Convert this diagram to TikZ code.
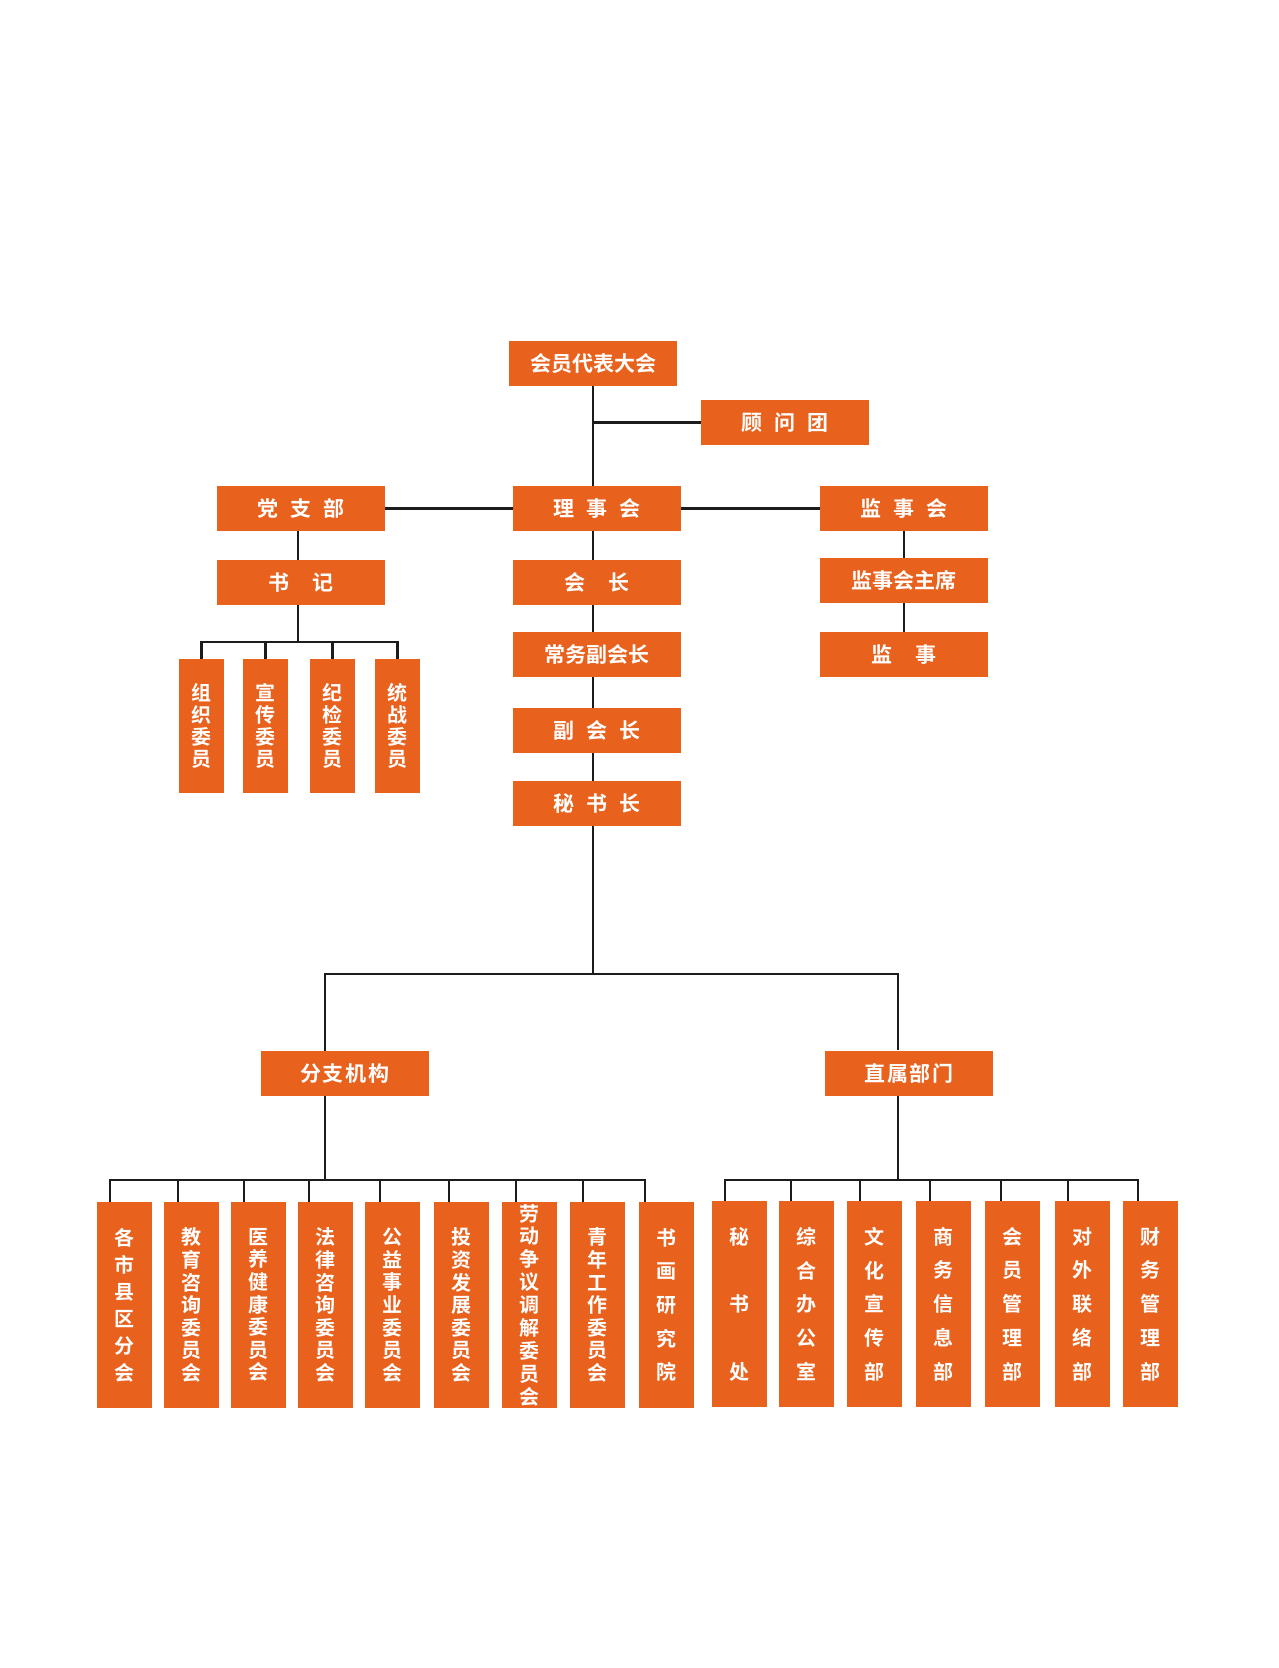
\documentclass[tikz,border=0pt]{standalone}
\usepackage{fontspec}
\setmainfont{Noto Sans CJK SC}[BoldFont={Noto Sans CJK SC Bold}]
\definecolor{boxor}{HTML}{E8621E}
\definecolor{linec}{HTML}{1C1C1C}
\begin{document}
\begin{tikzpicture}[x=1pt,y=-1pt,
  hbox/.style={fill=boxor,text=white,inner sep=0pt,minimum width=168pt,minimum height=45pt,font=\bfseries\fontsize{21pt}{25pt}\selectfont},
  vbox/.style={fill=boxor,text=white,inner sep=0pt,minimum width=55pt,minimum height=206pt,align=center,font=\bfseries\fontsize{20pt}{#1}\selectfont},
  pbox/.style={fill=boxor,text=white,inner sep=0pt,minimum width=45pt,minimum height=134pt,align=center,font=\bfseries\fontsize{20pt}{22pt}\selectfont},
  link/.style={draw=linec,line width=2.2pt}]
\fill[white] (0,0) rectangle (1279,1668);
\useasboundingbox (0,0) rectangle (1279,1668);

% top tier
\node[hbox] (hy) at (593,363.5) {会员代表大会};
\node[hbox] (gwt) at (785,422.5) {顾\hspace{12pt}问\hspace{12pt}团};
\node[hbox] (dzb) at (301,508.5) {党\hspace{12pt}支\hspace{12pt}部};
\node[hbox] (lsh) at (597,508.5) {理\hspace{12pt}事\hspace{12pt}会};
\node[hbox] (jsh) at (904,508) {监\hspace{12pt}事\hspace{12pt}会};
\node[hbox] (sj) at (301,582.5) {书\hspace{23pt}记};
\node[hbox] (hz) at (597,582.5) {会\hspace{23pt}长};
\node[hbox] (jszx) at (904,580.5) {监事会主席};
\node[hbox] (cw) at (597,654.5) {常务副会长};
\node[hbox] (js) at (904,654.5) {监\hspace{24pt}事};
\node[hbox] (fhz) at (597,730.5) {副\hspace{12pt}会\hspace{12pt}长};
\node[hbox] (msz) at (597,803.5) {秘\hspace{12pt}书\hspace{12pt}长};

% party committee members
\node[pbox] (p1) at (201.5,726) {组\\织\\委\\员};
\node[pbox] (p2) at (265.5,726) {宣\\传\\委\\员};
\node[pbox] (p3) at (332.5,726) {纪\\检\\委\\员};
\node[pbox] (p4) at (397.5,726) {统\\战\\委\\员};

% second tier
\node[hbox] (fz) at (345,1073.5) {分\hspace{2pt}支\hspace{2pt}机\hspace{2pt}构};
\node[hbox] (zs) at (909,1073) {直\hspace{2pt}属\hspace{2pt}部\hspace{2pt}门};

% branch organisations
\node[vbox=27pt] (b1) at (124.5,1305) {各\\市\\县\\区\\分\\会};
\node[vbox=22.6pt] (b2) at (191.5,1305) {教\\育\\咨\\询\\委\\员\\会};
\node[vbox=22.6pt] (b3) at (258.5,1305) {医\\养\\健\\康\\委\\员\\会};
\node[vbox=22.6pt] (b4) at (325.5,1305) {法\\律\\咨\\询\\委\\员\\会};
\node[vbox=22.6pt] (b5) at (392.5,1305) {公\\益\\事\\业\\委\\员\\会};
\node[vbox=22.6pt] (b6) at (461.5,1305) {投\\资\\发\\展\\委\\员\\会};
\node[vbox=22.9pt] (b7) at (529.5,1305) {劳\\动\\争\\议\\调\\解\\委\\员\\会};
\node[vbox=22.6pt] (b8) at (597.5,1305) {青\\年\\工\\作\\委\\员\\会};
\node[vbox=33.7pt] (b9) at (666.5,1305) {书\\画\\研\\究\\院};

% direct departments
\node[vbox=67.5pt] (r1) at (739.5,1304) {秘\\书\\处};
\node[vbox=33.7pt] (r2) at (806.5,1304) {综\\合\\办\\公\\室};
\node[vbox=33.7pt] (r3) at (874.5,1304) {文\\化\\宣\\传\\部};
\node[vbox=33.7pt] (r4) at (943.5,1304) {商\\务\\信\\息\\部};
\node[vbox=33.7pt] (r5) at (1012.5,1304) {会\\员\\管\\理\\部};
\node[vbox=33.7pt] (r6) at (1082.5,1304) {对\\外\\联\\络\\部};
\node[vbox=33.7pt] (r7) at (1150.5,1304) {财\\务\\管\\理\\部};

% helper coordinates
\coordinate (tk) at (593,0);
\coordinate (pt) at (298,0);
\coordinate (pbar) at (0,642);
\coordinate (mbar) at (0,974);
\coordinate (lt) at (325,0);
\coordinate (rt) at (898,0);
\coordinate (lbar) at (0,1180);

% main trunk
\draw[link] (hy.south -| tk) -- (lsh.north -| tk);
\draw[link] (gwt.west) -- (gwt.west -| tk);
\draw[link] (dzb.east) -- (lsh.west);
\draw[link] (lsh.east) -- (lsh.east -| jsh.west);
\draw[link] (lsh.south -| tk) -- (hz.north -| tk);
\draw[link] (hz.south -| tk) -- (cw.north -| tk);
\draw[link] (cw.south -| tk) -- (fhz.north -| tk);
\draw[link] (fhz.south -| tk) -- (msz.north -| tk);
\draw[link] (msz.south -| tk) -- (tk |- mbar);
\draw[link] (fz.north -| lt) -- (lt |- mbar) -- (rt |- mbar) -- (zs.north -| rt);

% supervisory
\draw[link] (jsh.south) -- (jszx.north);
\draw[link] (jszx.south) -- (js.north);

% party
\draw[link] (dzb.south -| pt) -- (sj.north -| pt);
\draw[link] (sj.south -| pt) -- (pt |- pbar);
\draw[link] (p1.north) -- (p1.north |- pbar) -- (p4.north |- pbar) -- (p4.north);
\draw[link] (p2.north) -- (p2.north |- pbar);
\draw[link] (p3.north) -- (p3.north |- pbar);

% branch organisations
\draw[link] (fz.south -| lt) -- (lt |- lbar);
\coordinate (d1) at ([xshift=13pt]b1.north west);
\coordinate (d2) at ([xshift=14pt]b2.north west);
\coordinate (d3) at ([xshift=13pt]b3.north west);
\coordinate (d4) at ([xshift=11pt]b4.north west);
\coordinate (d5) at ([xshift=15pt]b5.north west);
\coordinate (d6) at ([xshift=15pt]b6.north west);
\coordinate (d7) at ([xshift=14pt]b7.north west);
\coordinate (d8) at ([xshift=13pt]b8.north west);
\coordinate (d9) at ([xshift=6pt]b9.north west);
\draw[link] (d1) -- (d1 |- lbar) -- (d9 |- lbar) -- (d9);
\foreach \d in {d2,d3,d4,d5,d6,d7,d8} \draw[link] (\d) -- (\d |- lbar);

% direct departments
\draw[link] (zs.south -| rt) -- (rt |- lbar);
\coordinate (e1) at ([xshift=13pt]r1.north west);
\coordinate (e2) at ([xshift=12pt]r2.north west);
\coordinate (e3) at ([xshift=13pt]r3.north west);
\coordinate (e4) at ([xshift=14pt]r4.north west);
\coordinate (e5) at ([xshift=16pt]r5.north west);
\coordinate (e6) at ([xshift=13pt]r6.north west);
\coordinate (e7) at ([xshift=15pt]r7.north west);
\draw[link] (e1) -- (e1 |- lbar) -- (e7 |- lbar) -- (e7);
\foreach \e in {e2,e3,e4,e5,e6} \draw[link] (\e) -- (\e |- lbar);
\end{tikzpicture}
\end{document}
